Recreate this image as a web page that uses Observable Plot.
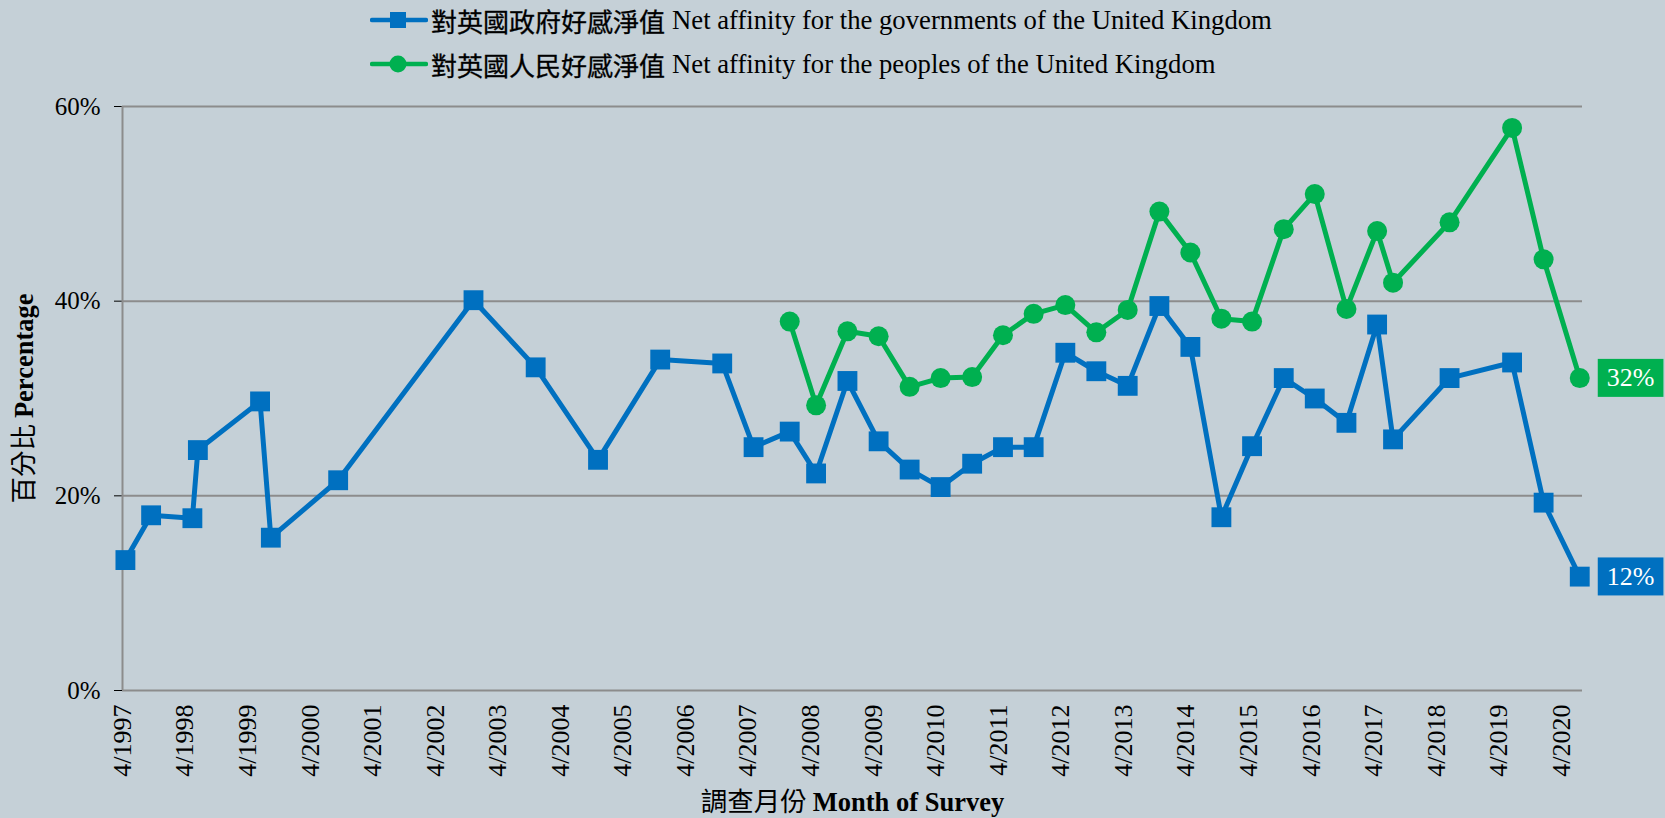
<!DOCTYPE html>
<html><head><meta charset="utf-8">
<script src="https://cdn.jsdelivr.net/npm/d3@7"></script>
<script src="https://cdn.jsdelivr.net/npm/@observablehq/plot@0.6"></script>
<style>
html,body{margin:0;padding:0;background:#C5D0D7;}
#wrap{width:1665px;height:818px;position:relative;overflow:hidden;background:#C5D0D7;}
#legend{position:relative;height:85px;}
.row{position:absolute;left:370px;display:flex;align-items:center;height:34px;white-space:nowrap;}
.row svg{margin-right:3px;}
.zh{font-family:"Noto Sans CJK TC",sans-serif;font-size:26px;color:#000;-webkit-text-stroke:0.3px #000;}
.en{font-family:"Liberation Serif",serif;font-size:26.7px;color:#000;margin-left:7px;}
</style></head>
<body><div id="wrap"><div id="legend"></div><div id="chart"></div></div>
<script>
// Survey dates (month of survey)
const surveyDates = [
  "1997-04-18","1997-09-15","1998-05-14","1998-06-15","1999-06-13","1999-08-15",
  "2000-09-11","2002-11-10","2003-11-08","2004-11-06","2005-11-04","2006-11-01",
  "2007-05-03","2007-11-30","2008-05-02","2008-11-01","2009-05-02","2009-10-30",
  "2010-04-29","2010-10-30","2011-04-28","2011-10-24","2012-04-26","2012-10-24",
  "2013-04-25","2013-10-27","2014-04-26","2014-10-24","2015-04-21","2015-10-23",
  "2016-04-21","2016-10-23","2017-04-20","2017-07-22","2018-06-17","2019-06-17",
  "2019-12-18","2020-07-16"
];
// Net affinity for the governments of the UK (%)
const govValues = [
  13.4,18.0,17.7,24.7,29.7,15.7,
  21.6,40.1,33.2,23.7,34.0,33.6,
  25.0,26.6,22.3,31.8,25.6,22.7,
  20.9,23.3,25.0,25.0,34.7,32.8,
  31.3,39.5,35.3,17.8,25.1,32.1,
  30.0,27.5,37.6,25.8,32.1,33.7,
  19.3,11.7
];
// Net affinity for the peoples of the UK (%), not surveyed before 11/2007
const peopleValues = [
  null,null,null,null,null,null,
  null,null,null,null,null,null,
  null,37.9,29.3,36.9,36.4,31.2,
  32.1,32.2,36.5,38.7,39.6,36.8,
  39.1,49.2,45.0,38.2,37.9,47.4,
  51.0,39.2,47.2,41.9,48.1,57.8,
  44.3,32.1
];
const seriesNames = [
  ["對英國政府好感淨值", "Net affinity for the governments of the United Kingdom"],
  ["對英國人民好感淨值", "Net affinity for the peoples of the United Kingdom"]
];
const seriesColors = ["#0070C0", "#00B050"];
const xTickLabels = [
  "4/1997","4/1998","4/1999","4/2000","4/2001","4/2002","4/2003","4/2004",
  "4/2005","4/2006","4/2007","4/2008","4/2009","4/2010","4/2011","4/2012",
  "4/2013","4/2014","4/2015","4/2016","4/2017","4/2018","4/2019","4/2020"
];
const yTicks = [0, 20, 40, 60];
const xTitle = ["調查月份", "Month of Survey"];
const yTitle = ["百分比", "Percentage"];

const parseLabel = s => { const [m, y] = s.split("/"); return new Date(+y, +m - 1, 1); };
const xTickDates = xTickLabels.map(parseLabel);
const labelMap = new Map(xTickDates.map((d, i) => [+d, xTickLabels[i]]));

const gov = surveyDates.map((d, i) => ({date: new Date(d + "T00:00"), value: govValues[i], series: 0}));
const ppl = surveyDates.map((d, i) => ({date: new Date(d + "T00:00"), value: peopleValues[i], series: 1})).filter(d => d.value != null);
const lastGov = gov[gov.length - 1], lastPpl = ppl[ppl.length - 1];

// legend
const legend = document.getElementById("legend");
seriesNames.forEach((n, i) => {
  const row = document.createElement("div");
  row.className = "row";
  row.style.top = (i === 0 ? 3 : 47) + "px";
  const sw = i === 0
    ? `<rect x="20" y="9" width="16" height="16" fill="${seriesColors[i]}"/>`
    : `<circle cx="28" cy="17" r="8.5" fill="${seriesColors[i]}"/>`;
  row.innerHTML = `<svg width="58" height="34"><line x1="2" x2="56" y1="17" y2="17" stroke="${seriesColors[i]}" stroke-width="4.5" stroke-linecap="round"/>${sw}</svg><span class="zh">${n[0]}</span><span class="en">${n[1]}</span>`;
  legend.appendChild(row);
});

const grid = "#8C8C8C";
const domainStart = new Date(1997, 3, 1), domainEnd = new Date(2020, 7, 1);
const chart = Plot.plot({
  width: 1665, height: 733,
  marginTop: 21, marginBottom: 128, marginLeft: 122, marginRight: 83,
  style: {background: "transparent", fontFamily: "Liberation Serif", fontSize: "25px", color: "#000", overflow: "visible"},
  x: {type: "time", domain: [domainStart, domainEnd], ticks: xTickDates, tickFormat: d => labelMap.get(+d),
      tickRotate: -90, tickSize: 0, tickPadding: 14,
      label: xTitle.join(" "), labelAnchor: "center", labelArrow: "none", labelOffset: 120},
  y: {domain: [0, 60], ticks: yTicks, tickFormat: d => d + "%", tickSize: 8, tickPadding: 14,
      label: yTitle.join(" "), labelAnchor: "center", labelArrow: "none", labelOffset: 108},
  marks: [
    Plot.gridY(yTicks, {stroke: grid, strokeWidth: 2, strokeOpacity: 1}),
    Plot.ruleX([domainStart], {y1: 0, y2: 60, stroke: grid, strokeWidth: 2}),
    Plot.line(gov, {x: "date", y: "value", stroke: seriesColors[0], strokeWidth: 5}),
    Plot.dot(gov, {x: "date", y: "value", symbol: "square", r: 11.2, fill: seriesColors[0], stroke: "none"}),
    Plot.line(ppl, {x: "date", y: "value", stroke: seriesColors[1], strokeWidth: 5}),
    Plot.dot(ppl, {x: "date", y: "value", symbol: "circle", r: 10, fill: seriesColors[1], stroke: "none"}),
    Plot.text([lastPpl, lastGov], {x: "date", y: "value", text: d => Math.round(d.value) + "%",
      textAnchor: "start", dx: 27, fill: "white", fontSize: 26})
  ]
});
document.getElementById("chart").appendChild(chart);
const svg = d3.select(chart);

// slightly larger x tick labels, as in the reference
svg.selectAll('g[aria-label="x-axis tick label"]').attr("font-size", 26);

// mixed-font axis titles
function mixTitle(sel, parts) {
  const t = svg.select(sel);
  if (t.empty()) return;
  t.text("").attr("font-size", 26.5);
  t.append("tspan").attr("font-family", '"Noto Sans CJK TC", sans-serif').text(parts[0] + " ");
  t.append("tspan").attr("font-family", '"Liberation Serif", serif').attr("font-weight", "bold").text(parts[1]);
}
mixTitle('g[aria-label="x-axis label"] text', xTitle);
mixTitle('g[aria-label="y-axis label"] text', yTitle);

// coloured boxes behind end labels
svg.selectAll('g[aria-label="text"] text').each(function(d) {
  const bb = this.getBBox();
  const datum = [lastGov, lastPpl].find(p => Math.round(p.value) + "%" === this.textContent);
  d3.select(this.parentNode).insert("rect", () => this)
    .attr("transform", this.getAttribute("transform"))
    .attr("x", bb.x - 9).attr("y", bb.y + bb.height / 2 - 19)
    .attr("width", bb.width + 18).attr("height", 38)
    .attr("fill", seriesColors[datum ? datum.series : 0]);
});
</script>
</body></html>
